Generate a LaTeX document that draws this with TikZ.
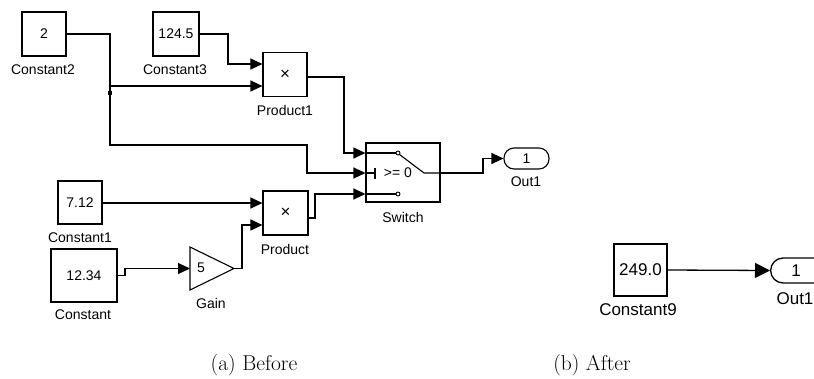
\documentclass[tikz,border=0pt]{standalone}
\usepackage{fontspec}
\setsansfont{Liberation Sans}
\usetikzlibrary{arrows.meta}
\begin{document}
\begin{tikzpicture}[x=1pt,y=-1pt,
  blk/.style={draw,line width=1.1pt,inner sep=0pt,font=\sffamily\fontsize{14}{16}\selectfont},
  blkb/.style={draw,line width=1.3pt,inner sep=0pt,font=\sffamily\fontsize{17}{19}\selectfont},
  lbl/.style={inner sep=0pt,font=\sffamily\fontsize{14}{16}\selectfont},
  lblb/.style={inner sep=0pt,font=\sffamily\fontsize{17}{19}\selectfont},
  wire/.style={line width=1.1pt},
  sig/.style={line width=1.1pt,-{Triangle[length=12pt,width=11pt]}},
  sigb/.style={line width=1.3pt,-{Triangle[length=15pt,width=15pt]}},
  captext/.style={inner sep=0pt,font=\fontsize{21.5}{24}\selectfont}]
\useasboundingbox (0,0) rectangle (814,378);
% ---------- (a) Before ----------
\node[blk,minimum width=44pt,minimum height=44pt] (c2) at (44,34) {2};
\node[lbl] (c2l) at (43,70) {Constant2};
\node[blk,minimum width=46pt,minimum height=44pt] (c3) at (176,34) {124.5};
\node[lbl] (c3l) at (175,70) {Constant3};
\node[blk,minimum width=44pt,minimum height=44pt,font=\sffamily\fontsize{17}{19}\selectfont] (p1) at (285,74.5) {×};
\node[lbl] (p1l) at (285,110) {Product1};
\node[blk,minimum width=74pt,minimum height=59pt] (sw) at (403,172.5) {};
\node[lbl] (swl) at (403,217) {Switch};
\node[blk,minimum width=45pt,minimum height=21pt,rounded corners=10pt] (o1) at (526.5,158.5) {1};
\node[lbl] (o1l) at (526,182) {Out1};
\node[blk,minimum width=44pt,minimum height=43pt] (c1) at (80,202.5) {7.12};
\node[lbl] (c1l) at (80,238) {Constant1};
\node[blk,minimum width=66pt,minimum height=53pt] (c) at (84,275.5) {12.34};
\node[lbl] (cl) at (83,315) {Constant};
\node[blk,minimum width=45pt,minimum height=44pt,font=\sffamily\fontsize{17}{19}\selectfont] (p) at (285.5,213) {×};
\node[lbl] (pl) at (285,249) {Product};
% gain triangle
\draw[line width=1.1pt] (190,247) -- (234,268.5) -- (190,290) -- cycle;
\coordinate (gin) at (190,268.5);
\coordinate (gout) at (234,268.5);
\node[lbl] (gv) at (201,268) {5};
\node[lbl] (gl) at (211,303) {Gain};
% switch internals
\coordinate (swin1) at (sw.west |- 0,153);
\coordinate (swin2) at (sw.west |- 0,173);
\coordinate (swin3) at (sw.west |- 0,194);
\coordinate (swout) at (sw.east |- 0,173);
\draw[wire] (swin1) -- (396,153);
\draw[line width=0.9pt] (398,153) circle (2pt);
\draw[wire] (399.5,154.5) -- (424,173) -- (swout);
\draw[wire] (swin2) -- (375,173);
\draw[wire] (375,167.5) -- (375,178.5);
\node[lbl] (swt) at (398,173) {>= 0};
\draw[wire] (swin3) -- (396,194);
\draw[line width=0.9pt] (398,194) circle (2pt);
% connectors
\coordinate (br) at (110,86);
\draw[wire] (c2.east) -- (110,34) -- (br);
\draw[sig] (br) -- (p1.west |- 0,86);
\draw[sig] (br) -- (110,145) -- (307,145) -- (307,173) -- (swin2);
\fill (108,91) rectangle (112,95);
\draw[sig] (c3.east) -- (228,34) -- (228,64) -- (p1.west |- 0,64);
\draw[sig] (p1.east |- 0,77) -- (344,77) -- (344,153) -- (swin1);
\draw[sig] (swout) -- (483,173) -- (483,158.5) -- (o1.west);
\draw[sig] (c1.east |- 0,203) -- (p.west |- 0,203);
\draw[sig] (c.east) -- (125,275.5) -- (125,268.5) -- (gin);
\draw[sig] (gout) -- (242,268.5) -- (242,225) -- (p.west |- 0,225);
\draw[sig] (p.east |- 0,218) -- (315,218) -- (315,194) -- (swin3);
% ---------- (b) After ----------
\node[blkb,minimum width=53pt,minimum height=52pt] (c9) at (640.5,270) {249.0};
\node[lblb] (c9l) at (638,310) {Constant9};
\begin{scope}
\clip (0,0) rectangle (814,378);
\node[blkb,minimum width=58pt,minimum height=25pt,rounded corners=12.5pt,anchor=west] (o9) at (770,270.5) {};
\end{scope}
\node[lblb] (o9t) at (796,270.5) {1};
\node[lblb] (o9l) at (795,299) {Out1};
\draw[sigb] (c9.east) -- (o9.west);
% captions
\node[captext] (ca) at (254,365) {(a) Before};
\node[captext] (cb) at (592,365) {(b) After};
\end{tikzpicture}
\end{document}
